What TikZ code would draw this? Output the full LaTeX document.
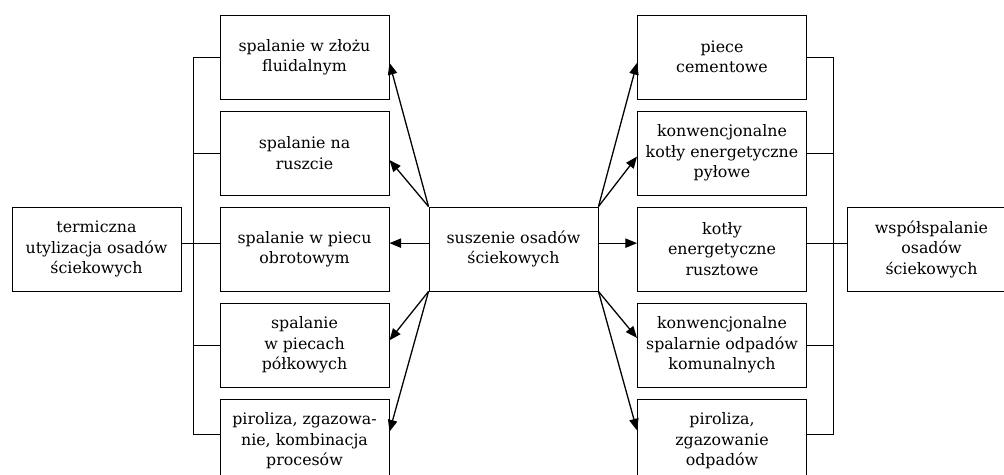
\documentclass[tikz,border=0pt]{standalone}
\usepackage{fontspec}
\setmainfont{DejaVu Serif}
\usetikzlibrary{arrows.meta}

\begin{document}
\begin{tikzpicture}[x=0.03cm, y=-0.03cm,
    every node/.style={font=\fontsize{13.5}{17.5}\selectfont},
    box/.style={draw, line width=0.8pt, minimum width=5.07cm, minimum height=2.52cm, align=center, inner sep=2pt},
    link/.style={line width=0.8pt},
    flow/.style={line width=1.1pt, -{Triangle[length=10pt, width=8pt]}}]
    \useasboundingbox (0,0) rectangle (1004,475);

    % Nodes
    \node[box] (term) at (96.5,249) {termiczna\\utylizacja osadów\\ściekowych};
    \node[box] (zloze) at (304.5,57) {spalanie w złożu\\fluidalnym};
    \node[box] (ruszt) at (304.5,153) {spalanie na\\ruszcie};
    \node[box] (piec) at (304.5,249) {spalanie w piecu\\obrotowym};
    \node[box] (polka) at (304.5,345) {spalanie\\w piecach\\półkowych};
    \node[box] (pirol) at (304.5,441) {piroliza, zgazowa-\\nie, kombinacja\\procesów};
    \node[box] (susz) at (513.5,249) {suszenie osadów\\ściekowych};
    \node[box] (cement) at (722,57) {piece\\cementowe};
    \node[box] (pyl) at (722,153) {konwencjonalne\\kotły energetyczne\\pyłowe};
    \node[box] (rusztowe) at (722,249) {kotły\\energetyczne\\rusztowe};
    \node[box] (spalarnia) at (722,345) {konwencjonalne\\spalarnie odpadów\\komunalnych};
    \node[box] (gaz) at (722,441) {piroliza,\\zgazowanie\\odpadów};
    \node[box] (wsp) at (931.5,249) {współspalanie\\osadów\\ściekowych};

    \coordinate (busL) at (193,0);
    \coordinate (busR) at (833,0);
    \coordinate (endL) at ([yshift=6pt]pirol.west);
    \coordinate (endR) at ([yshift=6pt]gaz.east);

    % Links
    \foreach \n in {zloze,ruszt,polka} \draw[link] (\n.west) -- (\n.west -| busL);
    \foreach \n in {cement,pyl,spalarnia} \draw[link] (\n.east) -- (\n.east -| busR);
    \draw[link] (zloze.west -| busL) -- (endL -| busL) -- (endL);
    \draw[link] (cement.east -| busR) -- (endR -| busR) -- (endR);
    \draw[link] ([yshift=5pt]term.east) -- ([yshift=5pt]piec.west);
    \draw[link] ([yshift=5pt]rusztowe.east) -- ([yshift=5pt]wsp.west);

    % Arrows
    \draw[flow] (susz.north west) -- ([yshift=-5pt]zloze.east);
    \draw[flow] (susz.north west) -- ([yshift=-6pt]ruszt.east);
    \draw[flow] ([yshift=5pt]susz.west) -- ([yshift=5pt]piec.east);
    \draw[flow] (susz.south west) -- ([yshift=4pt]polka.east);
    \draw[flow] (susz.south west) -- ([yshift=8pt]pirol.east);
    \draw[flow] (susz.north east) -- ([yshift=-5pt]cement.west);
    \draw[flow] (susz.north east) -- ([yshift=-3pt]pyl.west);
    \draw[flow] ([yshift=5pt]susz.east) -- ([yshift=5pt]rusztowe.west);
    \draw[flow] (susz.south east) -- ([yshift=6pt]spalarnia.west);
    \draw[flow] (susz.south east) -- ([yshift=9pt]gaz.west);
\end{tikzpicture}
\end{document}
